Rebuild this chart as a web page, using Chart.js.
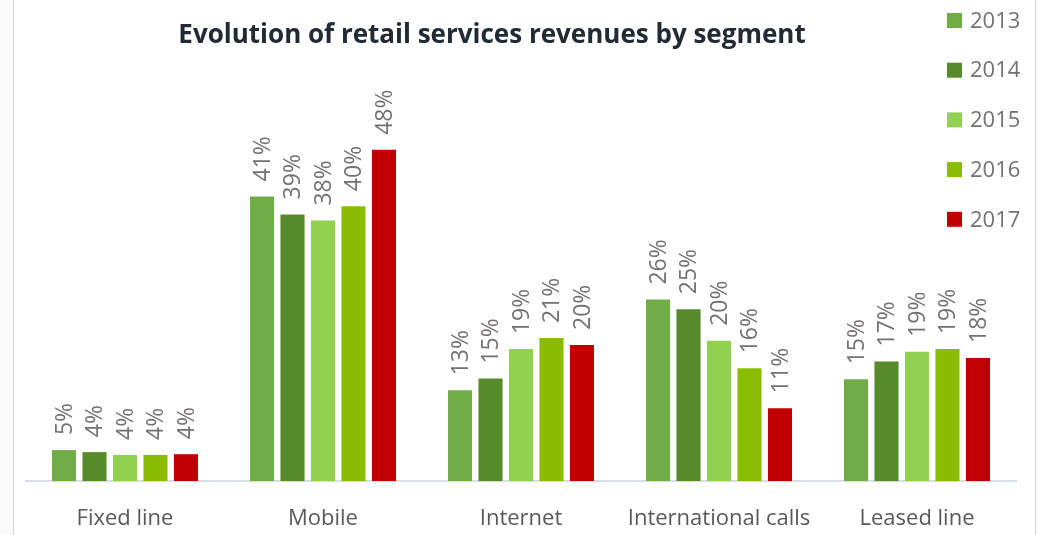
<!DOCTYPE html>
<html lang="en">
<head>
<meta charset="UTF-8">
<title>Evolution of retail services revenues by segment</title>
<script src="https://cdn.jsdelivr.net/npm/chart.js"></script>
<style>
    body {
        margin: 0;
        background: #ffffff;
        font-family: "Open Sans", sans-serif;
    }
    .wrap {
        position: relative;
        width: 1038px;
        height: 535px;
    }
    .edge {
        position: absolute;
        top: 0;
        width: 1px;
        height: 535px;
        background: #d4d4d4;
    }
    .left-strip {
        position: absolute;
        left: 0;
        top: 0;
        width: 13px;
        height: 535px;
        background: #fafafa;
    }
</style>
</head>
<body>
<div class="wrap">
    <div class="left-strip"></div>
    <div class="edge" style="left:13px"></div>
    <div class="edge" style="left:1035px"></div>
    <canvas id="chart" width="1038" height="535"></canvas>
</div>

<script>
    // data
    const segments = ["Fixed line", "Mobile", "Internet", "International calls", "Leased line"];
    const years = ["2013", "2014", "2015", "2016", "2017"];
    const y2013 = [4.5, 41.4, 13.2, 26.4, 14.8];
    const y2014 = [4.2, 38.8, 14.9, 25.0, 17.4];
    const y2015 = [3.8, 37.9, 19.2, 20.4, 18.8];
    const y2016 = [3.8, 40.0, 20.8, 16.4, 19.2];
    const y2017 = [3.9, 48.2, 19.8, 10.6, 17.9];
    const colors = ["#70ad47", "#578a2a", "#92d050", "#8abd00", "#c00000"];

    const title = "Evolution of retail services revenues by segment";
    const greyText = "#767171";

    // title, legend and the rotated value labels are drawn by hand
    const decor = {
        id: "decor",
        afterDatasetsDraw(chart) {
            const ctx = chart.ctx;
            ctx.save();

            ctx.fillStyle = "#222a35";
            ctx.font = "bold 26px 'Open Sans'";
            ctx.textAlign = "center";
            ctx.textBaseline = "alphabetic";
            ctx.fillText(title, 492, 43);

            ctx.font = "22px 'Open Sans'";
            ctx.textAlign = "left";
            ctx.textBaseline = "middle";
            years.forEach((yr, i) => {
                const cy = 20.5 + i * 49.7;
                ctx.fillStyle = colors[i];
                ctx.fillRect(947, cy - 7.5, 15, 15);
                ctx.fillStyle = greyText;
                ctx.fillText(yr, 970, cy + 1);
            });

            ctx.font = "23px 'Open Sans'";
            chart.data.datasets.forEach((ds, di) => {
                const meta = chart.getDatasetMeta(di);
                meta.data.forEach((bar, i) => {
                    ctx.save();
                    ctx.translate(bar.x + 1, bar.y - 15);
                    ctx.rotate(-Math.PI / 2);
                    ctx.fillStyle = greyText;
                    ctx.fillText(Math.round(ds.data[i]) + "%", 0, 0);
                    ctx.restore();
                });
            });
            ctx.restore();
        }
    };

    const yearData = [y2013, y2014, y2015, y2016, y2017];

    new Chart(document.getElementById("chart"), {
        type: "bar",
        data: {
            labels: segments,
            datasets: years.map((yr, i) => ({
                label: yr,
                data: yearData[i],
                backgroundColor: colors[i],
                borderWidth: 0,
                categoryPercentage: 0.77,
                barPercentage: 0.79
            }))
        },
        options: {
            responsive: false,
            animation: false,
            layout: {
                padding: { left: 26, right: 22, top: 0, bottom: 0 }
            },
            plugins: {
                legend: { display: false },
                title: { display: false },
                tooltip: { enabled: false }
            },
            scales: {
                x: {
                    grid: { display: false, drawTicks: false },
                    border: { display: true, color: "#d9dde6", width: 2 },
                    ticks: {
                        color: "#595959",
                        font: { family: "Open Sans", size: 22 },
                        padding: 25,
                        maxRotation: 0
                    },
                    afterFit(scale) {
                        scale.height = 54;
                    }
                },
                y: {
                    display: false,
                    min: 0,
                    max: 70
                }
            }
        },
        plugins: [decor]
    });
</script>
</body>
</html>
